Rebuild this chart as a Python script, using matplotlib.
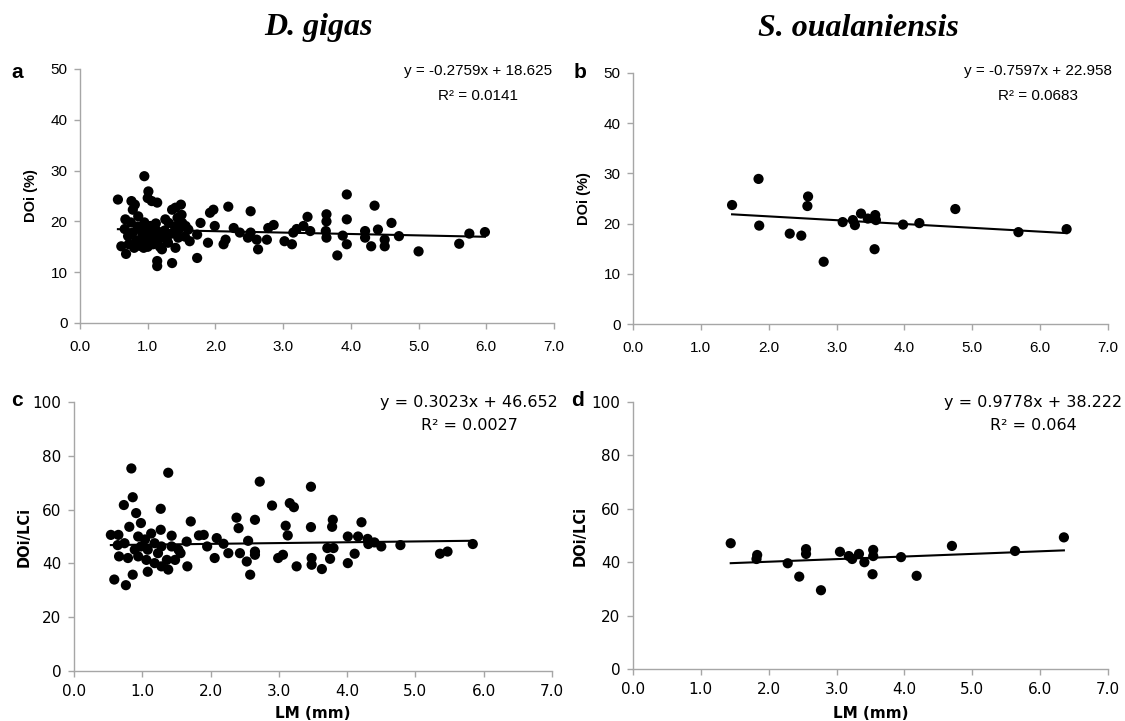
import numpy as np
import matplotlib.pyplot as plt

# ---- данные ----
# D. gigas, DOi (%)
lm_a = [0.56, 0.67, 0.61, 0.68, 0.71, 0.76, 0.78, 0.81, 0.86, 0.89, 0.91, 0.95, 1.01, 1.00,
        1.06, 1.14, 0.94, 0.99, 1.04, 1.11, 1.16, 1.14, 1.14, 1.21, 1.26, 1.31, 1.36, 1.41,
        1.49, 1.44, 1.46, 1.41, 1.36, 1.51, 1.56, 1.60, 1.62, 1.73, 1.73, 1.78, 1.89, 1.92,
        1.97, 1.99, 2.12, 2.15, 2.19, 2.27, 2.36, 2.52, 2.52, 2.48, 2.63,
        2.61, 2.76, 2.78, 2.86, 3.02, 3.13, 3.15, 3.20, 3.30, 3.36, 3.40, 3.64, 3.64, 3.64,
        3.63, 3.80, 3.88, 3.94, 3.94, 3.94, 4.21, 4.21, 4.30, 4.35, 4.40, 4.50, 4.50, 4.60,
        4.71, 5.00, 5.60, 5.75, 5.98,
        0.72, 0.78, 0.83, 0.85, 0.88, 0.92, 0.95, 0.97, 1.00, 1.02, 1.05, 1.08, 1.10, 1.12,
        1.15, 1.18, 1.20, 1.25, 1.28, 1.30, 0.66, 0.75, 0.80, 1.35, 1.40, 1.45, 1.50, 1.55]
doi_a = [24.3, 20.4, 15.1, 13.6, 17.1, 24.0, 22.3, 23.3, 21.0, 18.4, 16.4, 28.9, 25.9, 24.6,
         24.0, 23.7, 14.8, 17.8, 19.1, 18.4, 16.4, 12.2, 11.2, 14.5, 20.4, 19.7, 22.3, 22.7,
         23.3, 20.7, 18.4, 14.8, 11.8, 19.7, 19.1, 18.4, 16.1, 17.4, 12.8, 19.7, 15.8, 21.7,
         22.3, 19.1, 15.5, 16.4, 22.9, 18.7, 17.8, 22.0, 17.8, 16.8, 14.5,
         16.4, 16.4, 18.7, 19.3, 16.1, 15.5, 17.8, 18.5, 19.1, 20.9, 18.1, 21.4, 20.0, 16.8,
         18.1, 13.3, 17.2, 25.3, 20.4, 15.5, 18.1, 16.8, 15.1, 23.1, 18.4, 16.4, 15.1, 19.7,
         17.1, 14.1, 15.6, 17.6, 17.9,
         15.5, 17.8, 16.2, 19.0, 15.2, 17.2, 19.8, 16.0, 15.0, 18.8, 16.8, 15.5, 17.5, 19.6,
         18.0, 15.0, 17.0, 18.2, 16.5, 15.8, 18.5, 19.8, 14.8, 17.6, 19.0, 16.8, 21.3, 17.0]

# S. oualaniensis, DOi (%)
lm_b = [1.46, 1.85, 1.86, 2.31, 2.48, 2.58, 2.57, 2.81, 3.09, 3.24, 3.27, 3.36, 3.46, 3.57,
        3.58, 3.56, 3.98, 4.22, 4.75, 5.68, 6.39]
doi_b = [23.7, 28.9, 19.6, 18.0, 17.6, 25.4, 23.5, 12.4, 20.3, 20.7, 19.7, 22.0, 21.0, 21.7,
         20.7, 14.9, 19.8, 20.1, 22.9, 18.3, 18.9]

# D. gigas, DOi/LCi
lm_c = [0.54, 0.65, 0.59, 0.76, 0.86, 0.84, 0.86, 0.73, 0.91, 1.38, 1.27, 1.27, 1.43, 1.71,
        1.66, 1.65, 1.83, 1.90, 2.09, 2.06, 1.95, 2.19, 2.26, 2.38, 2.41, 2.55, 2.43, 2.53,
        2.58, 2.65, 2.65, 2.72,
        0.98, 0.81, 0.94, 1.04, 0.98, 1.08, 1.13, 1.18, 1.23, 1.28, 0.66, 0.79, 0.89, 0.94,
        1.06, 1.08, 1.18, 1.28, 1.38, 1.36, 1.48, 1.53, 1.43, 1.56, 0.74, 0.64,
        2.65, 2.90, 2.99, 3.06, 3.10, 3.13, 3.16, 3.22, 3.26, 3.47, 3.47, 3.48, 3.48, 3.63,
        3.71, 3.80, 3.75, 3.78, 3.79, 4.01, 4.01, 4.11, 4.16, 4.21, 4.30, 4.31, 4.40, 4.50,
        4.78, 5.36, 5.47, 5.84]
ratio_c = [50.6, 50.6, 34.0, 31.9, 35.8, 75.3, 64.6, 61.7, 58.7, 73.7, 60.3, 52.5, 50.3, 55.6,
           38.9, 48.1, 50.4, 50.6, 49.4, 42.0, 46.3, 47.3, 43.8, 57.0, 53.1, 48.4, 43.8, 40.7,
           35.8, 56.2, 44.4, 70.4,
           55.0, 53.6, 50.0, 48.9, 46.3, 45.1, 51.1, 47.5, 43.8, 46.3, 42.6, 42.0, 45.1, 42.6,
           41.3, 36.9, 40.1, 38.9, 37.7, 41.3, 41.3, 45.1, 46.3, 43.8, 47.5, 46.8,
           43.2, 61.5, 42.0, 43.2, 54.0, 50.4, 62.4, 60.9, 38.9, 68.5, 53.5, 42.0, 39.5, 37.9,
           45.7, 45.7, 41.7, 53.6, 56.2, 50.0, 40.1, 43.6, 50.0, 55.3, 49.1, 47.2, 47.8, 46.3,
           46.8, 43.6, 44.4, 47.2]

# S. oualaniensis, DOi/LCi
lm_d = [1.44, 1.83, 1.82, 2.28, 2.45, 2.55, 2.55, 2.77, 3.05, 3.18, 3.23, 3.33, 3.41, 3.54,
        3.54, 3.53, 3.95, 4.18, 4.70, 5.63, 6.35]
ratio_d = [47.1, 42.7, 41.2, 39.6, 34.6, 44.9, 43.1, 29.5, 43.9, 42.3, 41.2, 43.1, 40.0, 44.6,
           42.3, 35.5, 41.9, 34.9, 46.1, 44.2, 49.3]

# линии тренда: наклон, свободный член, подписи
slopes = [-0.2759, -0.7597, 0.3023, 0.9778]
intercepts = [18.625, 22.958, 46.652, 38.222]
eq_texts = ['y = -0.2759x + 18.625', 'y = -0.7597x + 22.958',
            'y = 0.3023x + 46.652', 'y = 0.9778x + 38.222']
r2_texts = ['R² = 0.0141', 'R² = 0.0683', 'R² = 0.0027', 'R² = 0.064']
titles = ['D. gigas', 'S. oualaniensis']
letters = ['a', 'b', 'c', 'd']

W, H = 1125, 721
fig = plt.figure(figsize=(W / 100, H / 100), dpi=100)


def px_rect(x0, y_top, x1, y_bot):
    return [x0 / W, 1 - y_bot / H, (x1 - x0) / W, (y_bot - y_top) / H]


def ftext(x, y, s, **kw):
    fig.text(x / W, 1 - y / H, s, **kw)


arial = 'Liberation Sans'
verdana = 'DejaVu Sans'
gray = '#a6a6a6'

# прямоугольник осей (пиксели), данные, верх оси y, шаг, шрифт, подписи, позиция подписи y
panels = [
    ((80, 69, 554, 323), lm_a, doi_a, 50, 10, arial, 'DOi (%)', None, 31),
    ((633, 73, 1108, 324), lm_b, doi_b, 50, 10, arial, 'DOi (%)', None, 584),
    ((74, 402, 552, 671), lm_c, ratio_c, 100, 20, verdana, 'DOi/LCi', 'LM (mm)', 24),
    ((633, 402, 1108, 669), lm_d, ratio_d, 100, 20, verdana, 'DOi/LCi', 'LM (mm)', 580),
]

for i, (box, xs, ys, ymax, ystep, fnt, ylab, xlab, ylab_x) in enumerate(panels):
    ax = fig.add_axes(px_rect(*box))
    ax.scatter(xs, ys, s=54, c='black', edgecolors='none', zorder=3)
    xl = np.array([min(xs), max(xs)])
    ax.plot(xl, slopes[i] * xl + intercepts[i], color='black', lw=1.5, zorder=2)
    ax.set_xlim(0, 7)
    ax.set_ylim(0, ymax)
    ax.set_xticks(np.arange(0, 8, 1))
    ax.set_xticklabels(['%.1f' % v for v in range(8)])
    ax.set_yticks(np.arange(0, ymax + 1, ystep))
    for sp in ['top', 'right']:
        ax.spines[sp].set_visible(False)
    for sp in ['left', 'bottom']:
        ax.spines[sp].set_color(gray)
        ax.spines[sp].set_linewidth(1.0)
    fs = 11 if fnt == arial else 11
    ax.tick_params(colors=gray, labelcolor='black', length=4, width=1, direction='out',
                   labelsize=fs, pad=5)
    ax.tick_params(axis='x', pad=8 if fnt == arial else 5)
    for lab in ax.get_xticklabels() + ax.get_yticklabels():
        lab.set_fontfamily(fnt)
    ycen = (box[1] + box[3]) / 2
    ftext(ylab_x, ycen, ylab, rotation=90, ha='center', va='center', family=fnt,
          fontsize=10.5, fontweight='bold')
    if xlab:
        ftext((box[0] + box[2]) / 2, 713, xlab, ha='center', va='center', family=fnt,
              fontsize=11, fontweight='bold')

# подписи уравнений
eq_pos = [(478, 71, 96), (1038, 71, 96), (469, 403, 426), (1033, 403, 426)]
for i, (cx, y1, y2) in enumerate(eq_pos):
    fnt = arial if i < 2 else verdana
    fs = 11 if i < 2 else 11.5
    ftext(cx, y1, eq_texts[i], ha='center', va='center', family=fnt, fontsize=fs)
    ftext(cx, y2, r2_texts[i], ha='center', va='center', family=fnt, fontsize=fs)

# буквы панелей
for (x, y), s in zip([(17, 72), (580, 72), (17, 401), (578, 401)], letters):
    ftext(x, y, s, ha='center', va='center', family=arial, fontsize=15, fontweight='bold')

# заголовки
ftext(318, 28, titles[0], ha='center', va='center', family='Liberation Serif',
      fontsize=23, fontweight='bold', style='italic')
ftext(858, 28, titles[1], ha='center', va='center', family='Liberation Serif',
      fontsize=23, fontweight='bold', style='italic')

fig.savefig('out.png', dpi=100)
